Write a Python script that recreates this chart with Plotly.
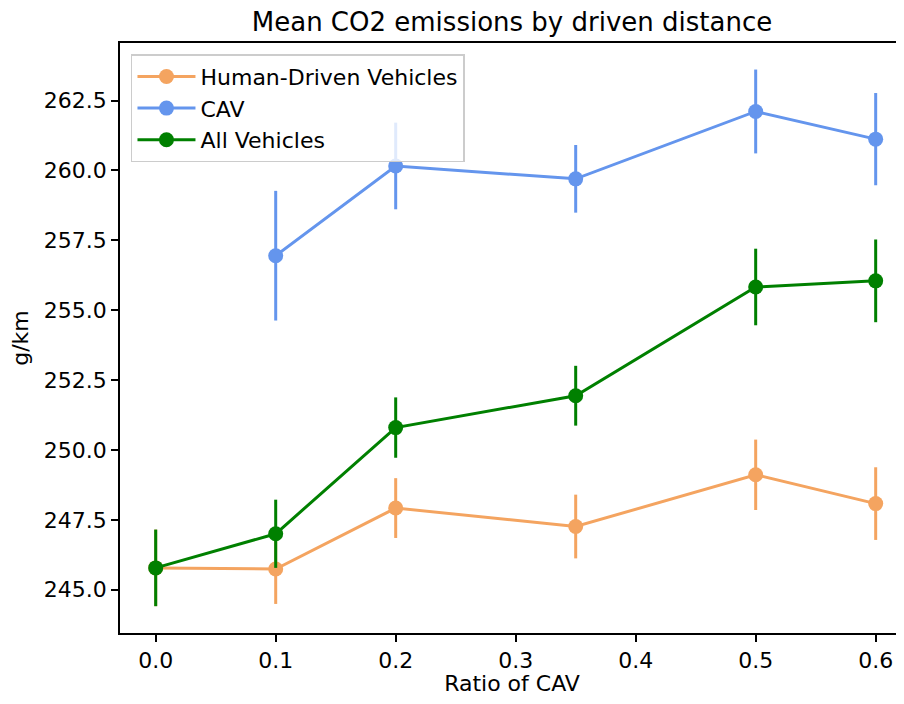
import plotly.graph_objects as go

ratio_all = [0.0, 0.1, 0.2, 0.35, 0.5, 0.6]
ratio_cav = [0.1, 0.2, 0.35, 0.5, 0.6]

human_mean = [245.78, 245.74, 247.92, 247.26, 249.11, 248.08]
human_err = [1.37, 1.25, 1.07, 1.14, 1.26, 1.30]

cav_mean = [256.95, 260.16, 259.70, 262.11, 261.12]
cav_err = [2.32, 1.55, 1.21, 1.50, 1.65]

all_mean = [245.78, 247.00, 250.80, 251.94, 255.83, 256.05]
all_err = [1.37, 1.22, 1.08, 1.07, 1.37, 1.48]

x_ticks = [0.0, 0.1, 0.2, 0.3, 0.4, 0.5, 0.6]
y_ticks = [245.0, 247.5, 250.0, 252.5, 255.0, 257.5, 260.0, 262.5]

FONT = "DejaVu Sans"

series = [
    ("Human-Driven Vehicles", ratio_all, human_mean, human_err, "#F4A460"),
    ("CAV", ratio_cav, cav_mean, cav_err, "#6495ED"),
    ("All Vehicles", ratio_all, all_mean, all_err, "#008000"),
]

fig = go.Figure()
for name, xs, ys, errs, color in series:
    fig.add_trace(go.Scatter(
        x=xs, y=ys, name=name, mode="lines+markers",
        line=dict(color=color, width=3),
        marker=dict(color=color, size=15),
        error_y=dict(type="data", array=errs, visible=True,
                     color=color, thickness=3, width=0),
    ))

fig.update_layout(
    width=896, height=688,
    margin=dict(l=112, r=0, t=35, b=63),
    paper_bgcolor="white", plot_bgcolor="white",
    font=dict(family=FONT, size=22, color="black"),
    title=dict(text="Mean CO2 emissions by driven distance",
               x=(112 + 784 / 2) / 896, xanchor="center", xref="container",
               y=1 - 14 / 688, yanchor="middle",
               font=dict(size=26, color="black")),
    showlegend=True,
    legend=dict(x=0.014, y=0.981, xanchor="left", yanchor="top",
                bgcolor="rgba(255,255,255,0.8)", bordercolor="#cccccc",
                borderwidth=1.5, font=dict(size=22, color="black"),
                itemwidth=58, tracegroupgap=0),
)

fig.update_xaxes(
    range=[-0.02975, 0.6236],
    tickvals=x_ticks, ticktext=[f"{v:.1f}" for v in x_ticks],
    showgrid=False, zeroline=False,
    showline=True, linecolor="black", linewidth=1.6, mirror=True,
    ticks="outside", ticklen=7, tickwidth=1.6, tickcolor="black",
    title=dict(text="Ratio of CAV", font=dict(size=22), standoff=6),
    tickfont=dict(size=22),
)
fig.update_yaxes(
    range=[243.45, 264.56],
    tickvals=y_ticks, ticktext=[f"{v:.1f}" for v in y_ticks],
    showgrid=False, zeroline=False,
    showline=True, linecolor="black", linewidth=1.6, mirror=False,
    ticks="outside", ticklen=7, tickwidth=1.6, tickcolor="black",
    title=dict(text="g/km", font=dict(size=22), standoff=12),
    tickfont=dict(size=22),
)

fig.write_html("out.html")
